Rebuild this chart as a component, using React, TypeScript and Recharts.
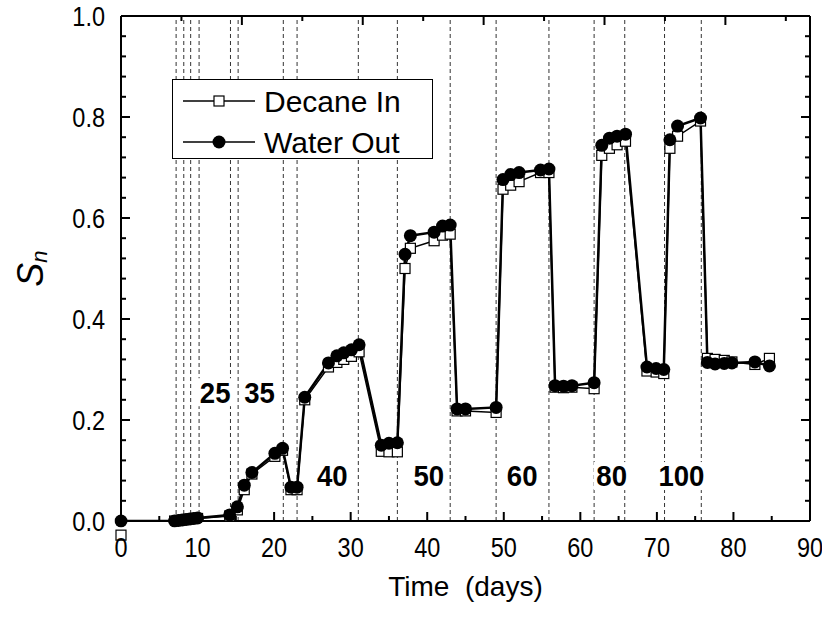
import React from 'react'
import { ComposedChart, Line, XAxis, YAxis, ReferenceLine, ReferenceDot, Legend } from 'recharts'

// time of each sample (days)
const days = [0, 7, 7.5, 8, 8.5, 9, 9.5, 10, 14.2, 15.2, 16.1, 17.1, 20.1, 21.1, 22.2, 23, 24, 27.1, 28.2, 29.1, 30.1, 31.1, 34, 35, 36.1, 37.1, 37.8, 40.9, 42, 43, 43.9, 45, 49, 49.9, 50.9, 52, 54.8, 55.9, 56.7, 57.8, 58.9, 61.8, 62.8, 63.8, 64.8, 65.9, 68.7, 69.9, 70.9, 71.7, 72.7, 75.7, 76.6, 77.6, 78.8, 79.8, 82.8, 84.7]
const decaneIn = [-0.028, 0, 0, 0.001, 0.002, 0.003, 0.004, 0.005, 0.01, 0.022, 0.062, 0.093, 0.128, 0.14, 0.062, 0.062, 0.24, 0.305, 0.314, 0.32, 0.326, 0.335, 0.138, 0.137, 0.137, 0.5, 0.54, 0.555, 0.566, 0.568, 0.218, 0.218, 0.215, 0.657, 0.665, 0.672, 0.69, 0.69, 0.265, 0.264, 0.265, 0.262, 0.724, 0.738, 0.745, 0.752, 0.297, 0.295, 0.292, 0.738, 0.762, 0.792, 0.322, 0.32, 0.318, 0.315, 0.31, 0.322]
const waterOut = [0, 0, 0.001, 0.002, 0.003, 0.004, 0.005, 0.006, 0.012, 0.028, 0.071, 0.096, 0.134, 0.144, 0.067, 0.067, 0.245, 0.313, 0.327, 0.333, 0.339, 0.349, 0.15, 0.154, 0.155, 0.528, 0.565, 0.572, 0.584, 0.586, 0.222, 0.222, 0.225, 0.676, 0.686, 0.69, 0.695, 0.697, 0.268, 0.267, 0.268, 0.274, 0.744, 0.758, 0.762, 0.766, 0.305, 0.302, 0.3, 0.755, 0.782, 0.798, 0.314, 0.311, 0.312, 0.313, 0.315, 0.307]

// dashed markers where the flow rate was changed
const switchDays = [7.2, 8.2, 9.1, 10.2, 14.3, 15.3, 21.2, 23, 31, 36.1, 43, 49, 55.9, 61.8, 65.8, 71, 75.8]

// flow-rate annotations
const rateLabels = ['25', '35', '40', '50', '60', '80', '100']
const rateLabelDays = [12.3, 18.1, 27.6, 40.2, 52.4, 64.1, 73.2]
const rateLabelLevels = [0.255, 0.255, 0.089, 0.089, 0.089, 0.089, 0.089]

const xTicks = [0, 5, 10, 15, 20, 25, 30, 35, 40, 45, 50, 55, 60, 65, 70, 75, 80, 85, 90]
const yTicks = [0, 0.04, 0.08, 0.12, 0.16, 0.2, 0.24, 0.28, 0.32, 0.36, 0.4, 0.44, 0.48, 0.52, 0.56, 0.6, 0.64, 0.68, 0.72, 0.76, 0.8, 0.84, 0.88, 0.92, 0.96, 1]

const data = days.map((d, i) => ({ day: d, decane: decaneIn[i], water: waterOut[i] }))

const FONT = '"Liberation Sans", Arial, sans-serif'

const isMajorX = (v: number) => Math.abs(v % 10) < 1e-6
const isMajorY = (v: number) => Math.abs(v * 5 - Math.round(v * 5)) < 1e-6

// narrow tick numbers, like the original plot
function TickText({ x, y, anchor, children }: { x: number; y: number; anchor: string; children: React.ReactNode }) {
  return (
    <text
      transform={`translate(${x}, ${y}) scale(0.84, 1)`}
      textAnchor={anchor}
      dominantBaseline="central"
      fontFamily={FONT}
      fontSize={28}
      fill="#000"
    >
      {children}
    </text>
  )
}

function XTick(props: any) {
  const { x, y, payload, top } = props
  const v = payload.value
  const len = isMajorX(v) ? 9 : 5
  return (
    <g>
      <line x1={x} x2={x} y1={y} y2={top ? y + len : y - len} stroke="#000" strokeWidth={2} />
      {!top && isMajorX(v) && (
        <TickText x={x} y={y + 26} anchor="middle">
          {v}
        </TickText>
      )}
    </g>
  )
}

function YTick(props: any) {
  const { x, y, payload, right } = props
  const v = payload.value
  const len = isMajorY(v) ? 9 : 5
  return (
    <g>
      <line x1={x} x2={right ? x - len : x + len} y1={y} y2={y} stroke="#000" strokeWidth={2} />
      {!right && isMajorY(v) && (
        <TickText x={x - 16} y={y} anchor="end">
          {v.toFixed(1)}
        </TickText>
      )}
    </g>
  )
}

function SquareDot(props: any) {
  const { cx, cy, index } = props
  if (cx == null || cy == null) return <g key={index} />
  return <rect key={index} x={cx - 5} y={cy - 5} width={10} height={10} fill="#fff" stroke="#000" strokeWidth={1.2} />
}

function RateTag({ cx, cy, text }: { cx: number; cy: number; text: string }) {
  const w = text.length * 16 + 4
  return (
    <g>
      <rect x={cx - w / 2} y={cy - 14} width={w} height={28} fill="#fff" />
      <text
        transform={`translate(${cx}, ${cy}) scale(0.92, 1)`}
        textAnchor="middle"
        dominantBaseline="central"
        fontFamily={FONT}
        fontWeight="bold"
        fontSize={30}
        fill="#000"
      >
        {text}
      </text>
    </g>
  )
}

function LegendBox(props: any) {
  const items = (props.payload || []) as any[]
  return (
    <div style={{ width: 259, height: 78, border: '1px solid #000', background: '#fff' }}>
      <svg width={259} height={78}>
        {items.map((it, i) => {
          const cy = 21 + i * 41
          return (
            <g key={it.value}>
              <line x1={10} x2={82} y1={cy} y2={cy} stroke="#000" strokeWidth={1.5} />
              {it.dataKey === 'decane' ? (
                <rect x={41} y={cy - 5} width={10} height={10} fill="#fff" stroke="#000" strokeWidth={1.2} />
              ) : (
                <circle cx={46} cy={cy} r={6.5} fill="#000" />
              )}
              <text x={91} y={cy} dominantBaseline="central" fontFamily={FONT} fontSize={30} fill="#000">
                {it.value}
              </text>
            </g>
          )
        })}
      </svg>
    </div>
  )
}

export default function App() {
  return (
    <div style={{ position: 'absolute', left: 0, top: 0, background: '#fff' }}>
      <ComposedChart width={822} height={619} data={data} margin={{ top: 15, right: 11, bottom: 18, left: 61 }}>
        <XAxis
          dataKey="day"
          type="number"
          domain={[0, 90]}
          ticks={xTicks}
          interval={0}
          allowDataOverflow
          tickSize={0}
          tickMargin={0}
          tickLine={false}
          tick={<XTick />}
          axisLine={{ stroke: '#000', strokeWidth: 2 }}
          height={80}
          label={{
            content: (p: any) => {
              const vb = p.viewBox
              return (
                <text x={vb.x + vb.width / 2} y={586} textAnchor="middle" dominantBaseline="central" fontFamily={FONT} fontSize={28} fill="#000" style={{ whiteSpace: 'pre' }}>
                  {'Time  (days)'}
                </text>
              )
            },
          }}
        />
        <XAxis
          xAxisId="top"
          orientation="top"
          type="number"
          domain={[0, 90]}
          ticks={xTicks}
          interval={0}
          allowDataOverflow
          tickSize={0}
          tickMargin={0}
          tickLine={false}
          tick={<XTick top />}
          axisLine={{ stroke: '#000', strokeWidth: 2 }}
          height={1}
        />
        <YAxis
          type="number"
          domain={[0, 1]}
          ticks={yTicks}
          interval={0}
          allowDataOverflow
          tickSize={0}
          tickMargin={0}
          tickLine={false}
          tick={<YTick />}
          axisLine={{ stroke: '#000', strokeWidth: 2 }}
          width={60}
          label={{
            content: (p: any) => {
              const vb = p.viewBox
              const cx = 30
              const cy = vb.y + vb.height / 2
              return (
                <text x={cx} y={cy} transform={`rotate(-90, ${cx}, ${cy})`} textAnchor="middle" dominantBaseline="central" fontFamily={FONT} fontStyle="italic" fill="#000">
                  <tspan fontSize={36}>S</tspan>
                  <tspan fontSize={22} dy={9}>n</tspan>
                </text>
              )
            },
          }}
        />
        <YAxis
          yAxisId="right"
          orientation="right"
          type="number"
          domain={[0, 1]}
          ticks={yTicks}
          interval={0}
          allowDataOverflow
          tickSize={0}
          tickMargin={0}
          tickLine={false}
          tick={<YTick right />}
          axisLine={{ stroke: '#000', strokeWidth: 2 }}
          width={1}
        />
        {switchDays.map((d) => (
          <ReferenceLine key={d} x={d} stroke="#333" strokeWidth={1} strokeDasharray="4 3" ifOverflow="hidden" />
        ))}
        {rateLabels.map((t, i) => (
          <ReferenceDot
            key={t}
            x={rateLabelDays[i]}
            y={rateLabelLevels[i]}
            r={0}
            ifOverflow="visible"
            shape={(p: any) => <RateTag cx={p.cx} cy={p.cy} text={t} />}
          />
        ))}
        <Line
          name="Decane In"
          dataKey="decane"
          type="linear"
          stroke="#000"
          strokeWidth={1.5}
          dot={<SquareDot />}
          activeDot={false}
          isAnimationActive={false}
        />
        <Line
          name="Water Out"
          dataKey="water"
          type="linear"
          stroke="#000"
          strokeWidth={2.5}
          dot={{ r: 6.5, fill: '#000', stroke: '#000', strokeWidth: 0, clipDot: false }}
          activeDot={false}
          isAnimationActive={false}
        />
        <ReferenceDot
          x={days[0]}
          y={decaneIn[0]}
          r={5}
          ifOverflow="visible"
          shape={(p: any) => <rect x={p.cx - 5} y={p.cy - 5} width={10} height={10} fill="#fff" stroke="#000" strokeWidth={1.2} />}
        />
        <Legend
          layout="vertical"
          align="center"
          verticalAlign="middle"
          wrapperStyle={{ left: 172, top: 79, width: 261, height: 80 }}
          content={<LegendBox />}
        />
      </ComposedChart>
    </div>
  )
}
